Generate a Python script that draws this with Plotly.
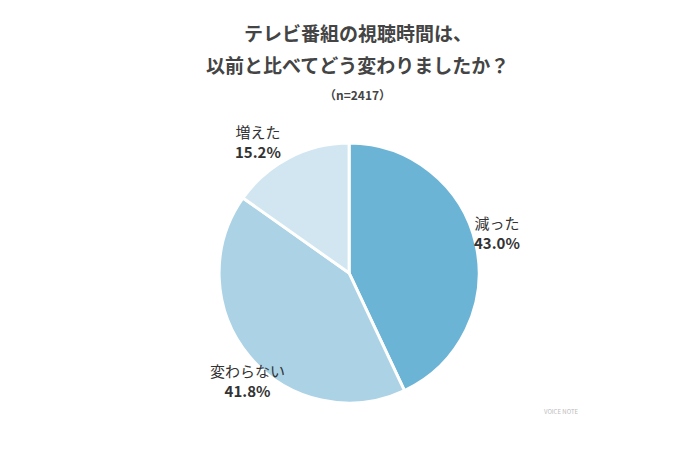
import plotly.graph_objects as go

categories = ["減った", "変わらない", "増えた"]
values = [43.0, 41.8, 15.2]
colors = ["#6cb4d6", "#acd2e5", "#d1e6f1"]

fig = go.Figure(go.Pie(
    labels=categories, values=values, sort=False, direction="clockwise", rotation=0,
    marker=dict(colors=colors, line=dict(color="white", width=3)),
    textinfo="none", hoverinfo="label+percent",
    domain=dict(x=[0.302, 0.674], y=[0.122, 0.700]), showlegend=False,
))

font = "Noto Sans CJK JP"
label_pos = [(514, 224), (200, 372), (250, 133)]
for (x, y), c, v in zip(label_pos, categories, values):
    fig.add_annotation(x=x/699, y=1-y/450, xref="paper", yref="paper", showarrow=False,
                       yanchor="middle", text=f"{c}<br><b>{v:.1f}%</b>", align="center",
                       font=dict(family=font, size=15, color="#333333"))

for t, yy in [("テレビ番組の視聴時間は、", 24), ("以前と比べてどう変わりましたか？", 56)]:
    fig.add_annotation(x=0.5, y=1-yy/450, xref="paper", yref="paper", showarrow=False,
                       yanchor="middle", text=f"<b>{t}</b>",
                       font=dict(family=font, size=19, color="#444444"))
fig.add_annotation(x=0.5, y=1-86/450, xref="paper", yref="paper", showarrow=False,
                   yanchor="middle", text="<b>（n=2417）</b>",
                   font=dict(family=font, size=12, color="#444444"))
fig.add_annotation(x=573/699, y=1-410/450, xref="paper", yref="paper", showarrow=False,
                   text="VOICE NOTE", font=dict(family=font, size=6, color="#bbbbbb"))

fig.update_layout(width=699, height=450, margin=dict(l=0, r=0, t=0, b=0),
                  paper_bgcolor="white", plot_bgcolor="white")
fig.write_html("out.html")
